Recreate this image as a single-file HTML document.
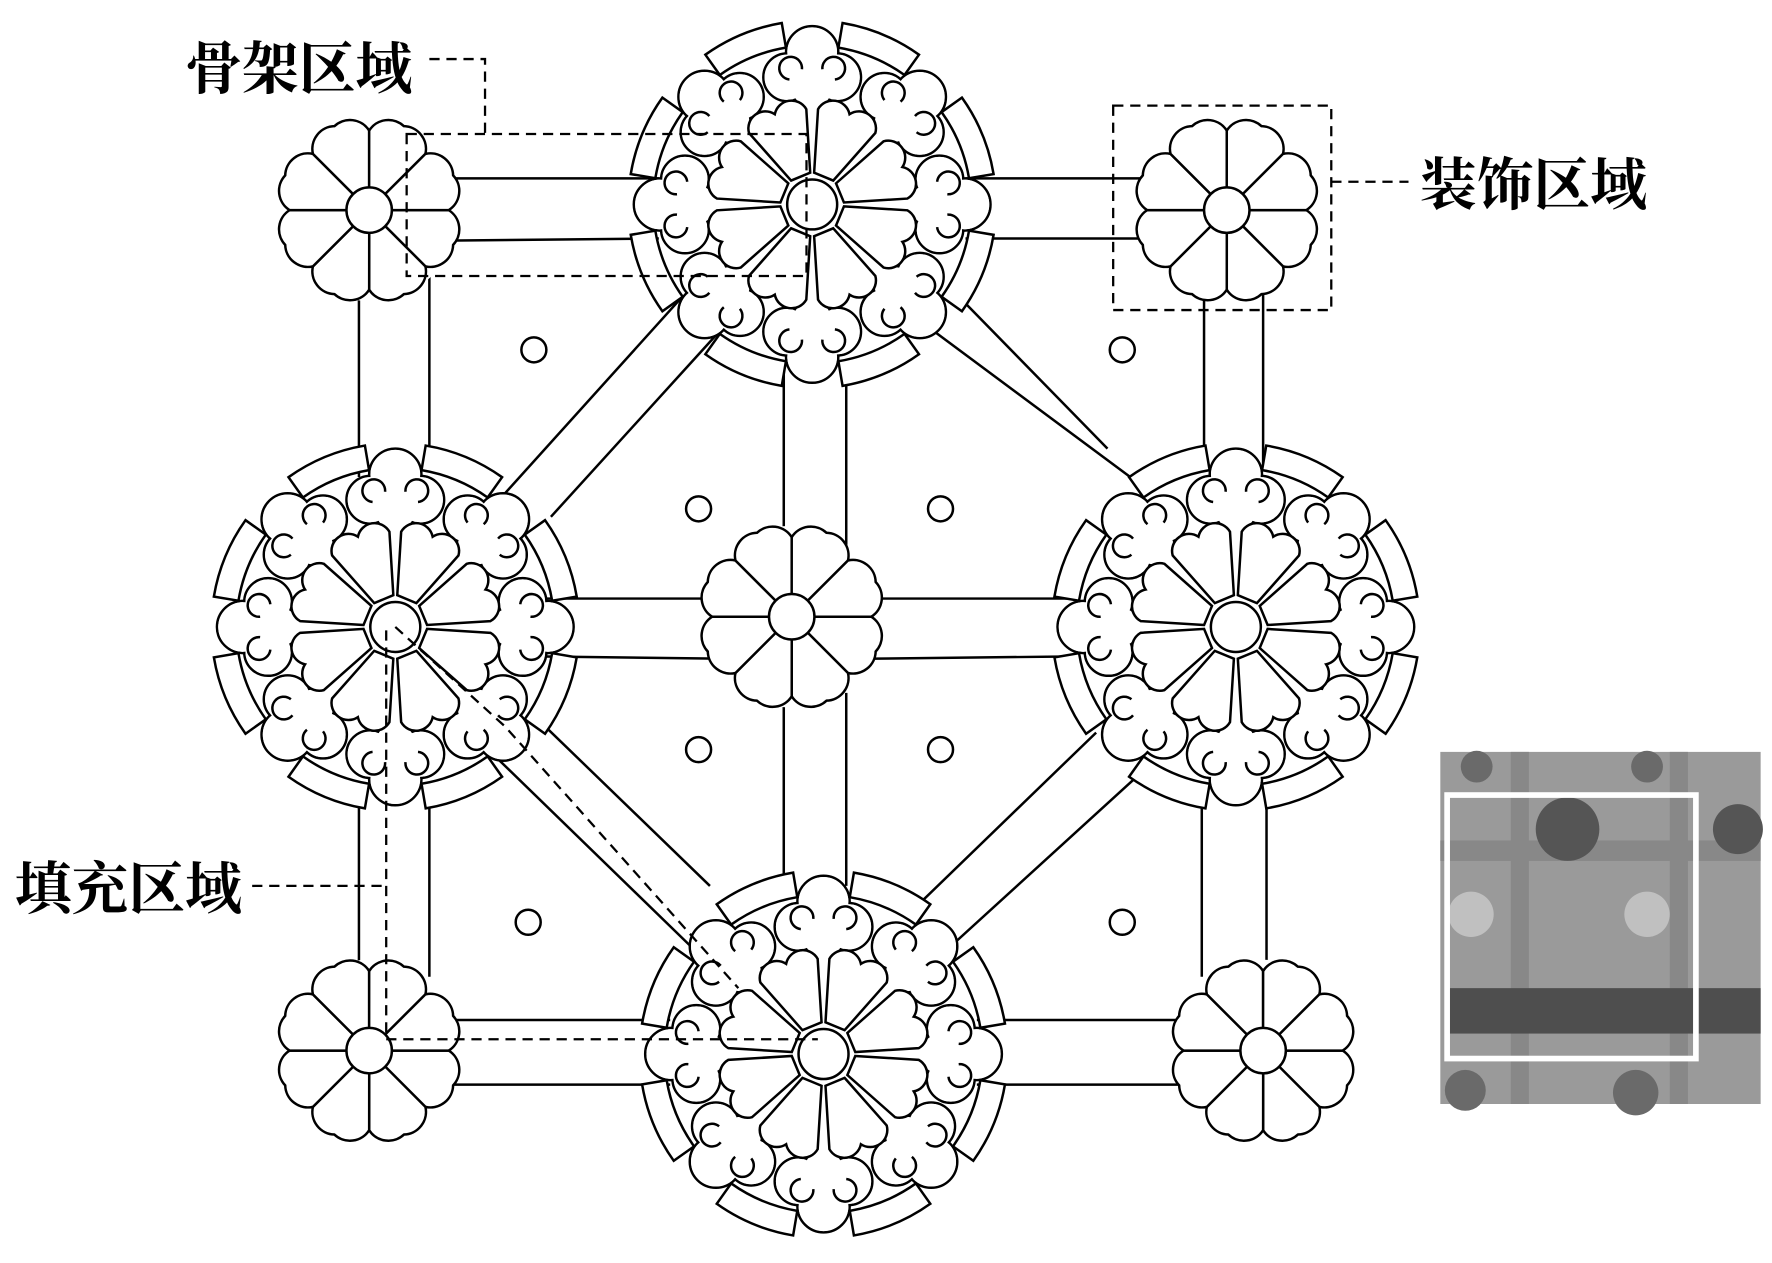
<!DOCTYPE html>
<html><head><meta charset="utf-8"><style>html,body{margin:0;padding:0;background:#fff}svg{display:block}</style></head>
<body>
<svg width="1772" height="1263" viewBox="0 0 1560 1112" preserveAspectRatio="none" xmlns="http://www.w3.org/2000/svg">
<defs>
<path id="sp" d="M18.5,-7.7 L64.7,-26.8 A20,20 0 0 1 80,0 A20,20 0 0 1 64.7,26.8 L18.5,7.7 Z" fill="#fff" stroke="#000" stroke-width="2.2"/>
<g id="small">
 <circle r="80" fill="#fff"/>
 <use href="#sp" transform="rotate(22.5)"/><use href="#sp" transform="rotate(67.5)"/><use href="#sp" transform="rotate(112.5)"/><use href="#sp" transform="rotate(157.5)"/>
 <use href="#sp" transform="rotate(202.5)"/><use href="#sp" transform="rotate(247.5)"/><use href="#sp" transform="rotate(292.5)"/><use href="#sp" transform="rotate(337.5)"/>
 <circle r="20" fill="#fff" stroke="#000" stroke-width="2.2"/>
</g>
<path id="bp" d="M26.5,-9.1 L79.4,-27.3 A15,15 0 0 1 86,0 A15,15 0 0 1 79.4,27.3 L26.5,9.1 Z" fill="#fff" stroke="#000" stroke-width="2.2"/>
<path id="cr" d="M157.8,-36.4 A162,162 0 0 1 157.8,36.4 L136.4,31.5 A140,140 0 0 0 136.4,-31.5 Z" fill="#fff" stroke="#000" stroke-width="2.2"/>
<g id="cs" stroke="#000" stroke-width="2.2" fill="#fff">
 <circle cx="134" cy="0" r="23"/><circle cx="112" cy="-22" r="21"/><circle cx="112" cy="22" r="21"/><circle cx="102" cy="0" r="18"/>
</g>
<g id="cf" fill="#fff">
 <circle cx="134" cy="0" r="21.9"/><circle cx="112" cy="-22" r="19.9"/><circle cx="112" cy="22" r="19.9"/><circle cx="102" cy="0" r="16.9"/>
</g>
<path id="sw" d="M110,-20 a10,10 0 1 1 9,11 M110,20 a10,10 0 1 0 9,-11" fill="none" stroke="#000" stroke-width="2.2"/>
<g id="big">
 <use href="#cr" transform="rotate(22.5)"/><use href="#cr" transform="rotate(67.5)"/><use href="#cr" transform="rotate(112.5)"/><use href="#cr" transform="rotate(157.5)"/>
 <use href="#cr" transform="rotate(202.5)"/><use href="#cr" transform="rotate(247.5)"/><use href="#cr" transform="rotate(292.5)"/><use href="#cr" transform="rotate(337.5)"/>
 <use href="#cs"/><use href="#cs" transform="rotate(45)"/><use href="#cs" transform="rotate(90)"/><use href="#cs" transform="rotate(135)"/>
 <use href="#cs" transform="rotate(180)"/><use href="#cs" transform="rotate(225)"/><use href="#cs" transform="rotate(270)"/><use href="#cs" transform="rotate(315)"/>
 <use href="#cf"/><use href="#cf" transform="rotate(45)"/><use href="#cf" transform="rotate(90)"/><use href="#cf" transform="rotate(135)"/>
 <use href="#cf" transform="rotate(180)"/><use href="#cf" transform="rotate(225)"/><use href="#cf" transform="rotate(270)"/><use href="#cf" transform="rotate(315)"/>
 <circle r="92" fill="#fff"/>
 <use href="#sw"/><use href="#sw" transform="rotate(45)"/><use href="#sw" transform="rotate(90)"/><use href="#sw" transform="rotate(135)"/>
 <use href="#sw" transform="rotate(180)"/><use href="#sw" transform="rotate(225)"/><use href="#sw" transform="rotate(270)"/><use href="#sw" transform="rotate(315)"/>
 <use href="#bp" transform="rotate(22.5)"/><use href="#bp" transform="rotate(67.5)"/><use href="#bp" transform="rotate(112.5)"/><use href="#bp" transform="rotate(157.5)"/>
 <use href="#bp" transform="rotate(202.5)"/><use href="#bp" transform="rotate(247.5)"/><use href="#bp" transform="rotate(292.5)"/><use href="#bp" transform="rotate(337.5)"/>
 <circle r="22" fill="#fff" stroke="#000" stroke-width="2.2"/>
</g>
</defs>
<g stroke="#000" stroke-width="2.2" fill="none">
 <line x1="380" y1="157" x2="580" y2="157"/><line x1="380" y1="212" x2="580" y2="210"/>
 <line x1="850" y1="157" x2="1010" y2="157"/><line x1="850" y1="210" x2="1010" y2="210"/>
 <line x1="316" y1="250" x2="316" y2="420"/><line x1="378" y1="240" x2="378" y2="410"/>
 <line x1="1060" y1="250" x2="1060" y2="410"/><line x1="1112" y1="250" x2="1112" y2="410"/>
 <line x1="690" y1="320" x2="690" y2="480"/><line x1="745" y1="320" x2="745" y2="480"/>
 <line x1="690" y1="610" x2="690" y2="780"/><line x1="745" y1="610" x2="745" y2="780"/>
 <line x1="480" y1="527" x2="640" y2="527"/><line x1="480" y1="578" x2="640" y2="580"/>
 <line x1="760" y1="527" x2="940" y2="527"/><line x1="760" y1="580" x2="940" y2="578"/>
 <line x1="316" y1="690" x2="316" y2="860"/><line x1="378" y1="690" x2="378" y2="860"/>
 <line x1="1058" y1="690" x2="1058" y2="860"/><line x1="1115" y1="690" x2="1115" y2="860"/>
 <line x1="380" y1="898" x2="590" y2="898"/><line x1="380" y1="955" x2="590" y2="955"/>
 <line x1="860" y1="898" x2="1050" y2="898"/><line x1="860" y1="955" x2="1050" y2="955"/>
 <line x1="600" y1="262" x2="435" y2="445"/><line x1="635" y1="290" x2="485" y2="455"/>
 <line x1="820" y1="290" x2="995" y2="420"/><line x1="845" y1="262" x2="975" y2="395"/>
 <line x1="470" y1="630" x2="625" y2="780"/><line x1="435" y1="665" x2="610" y2="835"/>
 <line x1="965" y1="645" x2="810" y2="795"/><line x1="1005" y1="680" x2="835" y2="835"/>
</g>
<use href="#small" transform="translate(325,185)"/>
<use href="#small" transform="translate(1080,185)"/>
<use href="#small" transform="translate(325,925)"/>
<use href="#small" transform="translate(1112,925)"/>
<use href="#small" transform="translate(697,543)"/>
<use href="#big" transform="translate(715,180)"/>
<use href="#big" transform="translate(348,552)"/>
<use href="#big" transform="translate(1088,552)"/>
<use href="#big" transform="translate(725,928)"/>
<g fill="#fff" stroke="#000" stroke-width="2.2">
 <circle cx="470" cy="308" r="11"/><circle cx="988" cy="308" r="11"/><circle cx="615" cy="448" r="11"/><circle cx="828" cy="448" r="11"/>
 <circle cx="615" cy="660" r="11"/><circle cx="828" cy="660" r="11"/><circle cx="465" cy="812" r="11"/><circle cx="988" cy="812" r="11"/>
</g>
<g stroke="#000" stroke-width="2" fill="none" stroke-dasharray="9,6">
 <path d="M378,52 H427 V118 M358,118 H710 V243 H358 Z"/>
 <rect x="980" y="93" width="192" height="180"/>
 <line x1="1172" y1="160" x2="1240" y2="160"/>
 <line x1="222" y1="780" x2="340" y2="780"/>
 <path d="M340,555 V915 H720"/>
 <path d="M348,552 L445,640 L650,870"/>
</g>
<g font-family="'Liberation Serif','Noto Serif CJK SC',serif" font-weight="bold" font-size="50" fill="#000">
 <text x="163" y="78">骨架区域</text>
 <text x="1250" y="180">装饰区域</text>
 <text x="13" y="800">填充区域</text>
</g>
<rect x="1268" y="662" width="282" height="310" fill="#9a9a9a"/>
<g fill="#6a6a6a">
 <rect x="1268" y="740" width="282" height="18" fill="#888"/>
 <rect x="1330" y="662" width="16" height="310" fill="#888"/>
 <rect x="1470" y="662" width="16" height="310" fill="#888"/>
 <circle cx="1380" cy="730" r="28" fill="#555"/><circle cx="1530" cy="730" r="22" fill="#555"/>
 <circle cx="1300" cy="675" r="14"/><circle cx="1450" cy="675" r="14"/>
 <rect x="1275" y="870" width="275" height="40" fill="#4e4e4e"/>
 <circle cx="1290" cy="960" r="18"/><circle cx="1440" cy="962" r="20"/>
</g>
<g fill="#c0c0c0"><circle cx="1295" cy="805" r="20"/><circle cx="1450" cy="805" r="20"/></g>
<rect x="1274" y="700" width="219" height="232" fill="none" stroke="#fff" stroke-width="5"/>
</svg>
</body></html>
